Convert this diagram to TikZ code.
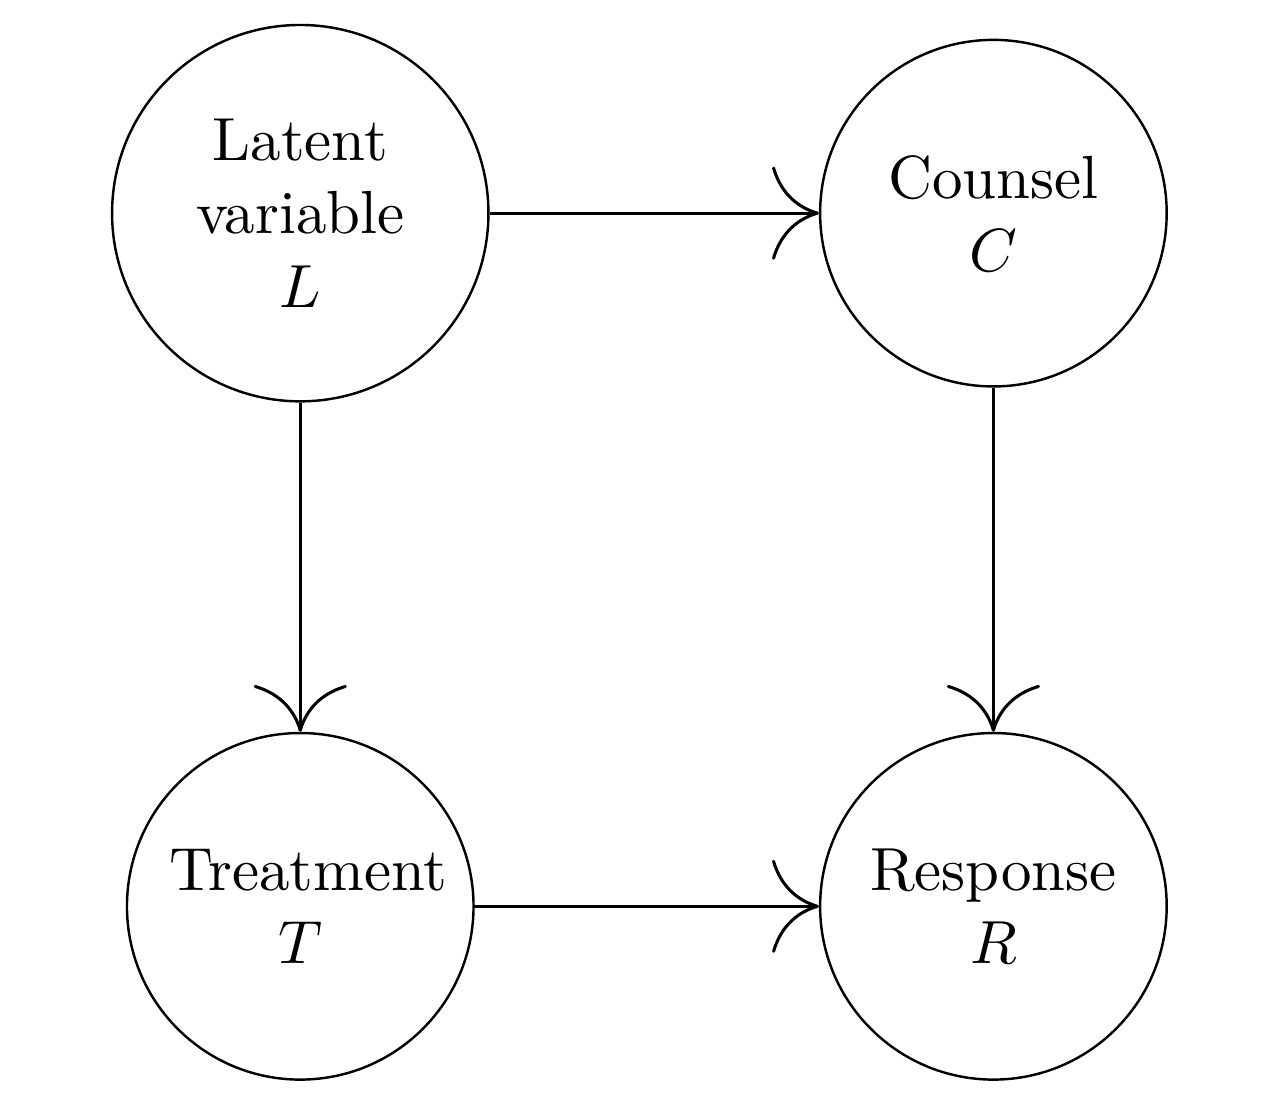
\documentclass[tikz,border=0pt]{standalone}
\usetikzlibrary{arrows.meta}
\begin{document}
\begin{tikzpicture}[
  var/.style={draw, circle, line width=0.4pt, minimum size=2cm, inner sep=1pt, align=center},
  arr/.style={line width=0.5pt, -{To[length=7.7pt,width=15.3pt]}}
]
\useasboundingbox (-49.3pt,-147pt) rectangle (161.2pt,35pt);
\node[var, minimum size=61.8pt] (L) at (0,0) {Latent\\variable\\$L$};
\node[var] (C) at (4cm,0) {Counsel\\$C$};
\node[var] (T) at (0,-4cm) {\hspace{2.6pt}Treatment\\$T$};
\node[var] (R) at (4cm,-4cm) {Response\\$R$};
\draw[arr] (L) -- (C);
\draw[arr] (L) -- (T);
\draw[arr] (C) -- (R);
\draw[arr] (T) -- (R);
\end{tikzpicture}
\end{document}
